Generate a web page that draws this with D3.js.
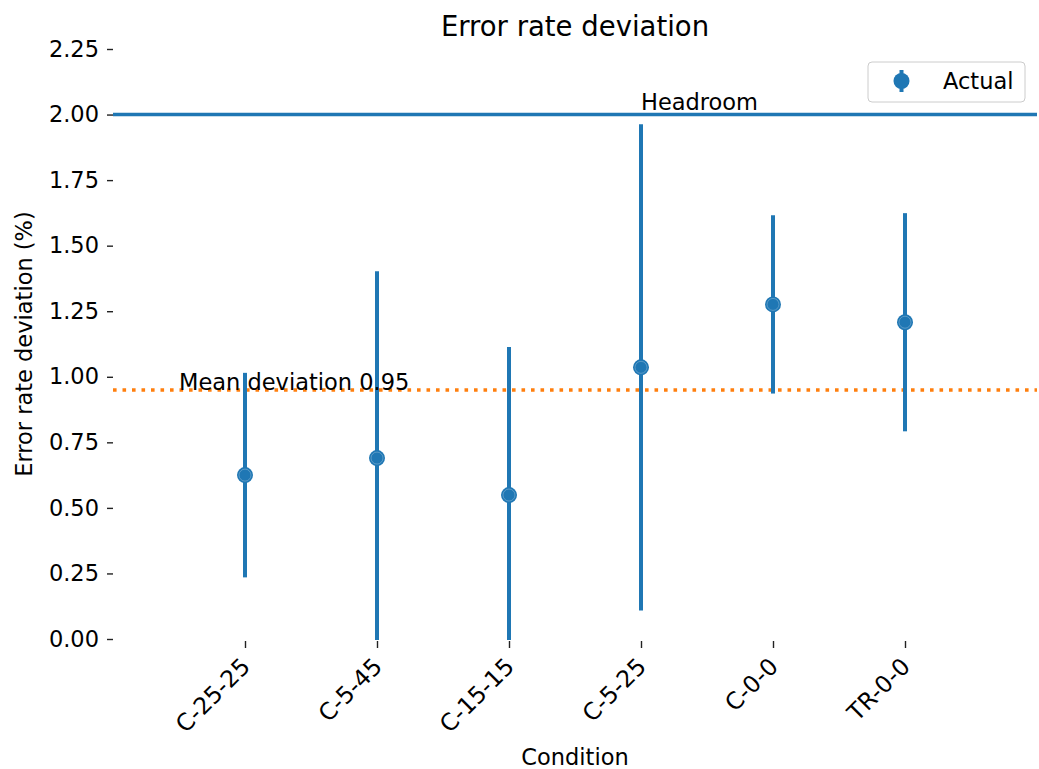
<!DOCTYPE html>
<html>
<head>
<meta charset="utf-8">
<script src="https://cdn.jsdelivr.net/npm/d3@7"></script>
<style>
  html, body { margin: 0; padding: 0; background: #ffffff; }
  svg { display: block; font-family: "DejaVu Sans", sans-serif; }
</style>
</head>
<body>
<svg id="chart" width="1039" height="769"></svg>
<script>
// Conditions on the x axis
const conditions = ["C-25-25", "C-5-45", "C-15-15", "C-5-25", "C-0-0", "TR-0-0"];
// Measured error-rate deviation (%) per condition
const actualValues = [0.625, 0.69, 0.549, 1.036, 1.276, 1.208];
// Symmetric error (± %) per condition
const actualErrors = [0.39, 0.712, 0.565, 0.927, 0.34, 0.416];
// Reference levels
const headroomLevel = 2.0;
const meanDeviation = 0.95;
// Y tick values
const yTicks = [0, 0.25, 0.5, 0.75, 1.0, 1.25, 1.5, 1.75, 2.0, 2.25];

const BLUE = "#1f77b4";
const ORANGE = "#ff7f0e";
const FS = 22.5;

const svg = d3.select("#chart");
const plot = { left: 113, right: 1037, top: 49, bottom: 639 };

const x = d3.scaleLinear().domain([-1, conditions.length]).range([plot.left, plot.right]);
const y = d3.scaleLinear().domain([0, 2.25]).range([plot.bottom, plot.top]);

// clip region = axes area
svg.append("defs").append("clipPath").attr("id", "plotClip")
  .append("rect")
  .attr("x", plot.left).attr("y", plot.top)
  .attr("width", plot.right - plot.left).attr("height", plot.bottom - plot.top + 1);

// Title
svg.append("text")
  .attr("x", (plot.left + plot.right) / 2).attr("y", 36)
  .attr("text-anchor", "middle")
  .attr("font-size", 27.5).attr("fill", "#000")
  .text("Error rate deviation");

// Y axis (spine hidden)
const yAxis = d3.axisLeft(y).tickValues(yTicks).tickFormat(d3.format(".2f")).tickSize(6).tickPadding(8);
const gy = svg.append("g").attr("transform", `translate(${plot.left},0)`).call(yAxis);
gy.select(".domain").remove();
gy.selectAll(".tick line").attr("stroke", "#222").attr("stroke-width", 1.4);
gy.selectAll(".tick text").attr("font-size", FS).attr("fill", "#000")
  .attr("font-family", "DejaVu Sans, sans-serif");

// X axis (spine hidden), rotated labels
const xAxis = d3.axisBottom(x).tickValues(d3.range(conditions.length))
  .tickFormat(i => conditions[i]).tickSize(7).tickPadding(0);
const gx = svg.append("g").attr("transform", `translate(0,${plot.bottom + 2})`).call(xAxis);
gx.select(".domain").remove();
gx.selectAll(".tick line").attr("stroke", "#222").attr("stroke-width", 1.4);
gx.selectAll(".tick text")
  .attr("font-size", 23.5).attr("fill", "#000")
  .attr("font-family", "DejaVu Sans, sans-serif")
  .attr("text-anchor", "end")
  .attr("dy", null).attr("y", null)
  .attr("transform", "translate(6,27) rotate(-45)");

// Axis labels
svg.append("text")
  .attr("x", (plot.left + plot.right) / 2).attr("y", 765)
  .attr("text-anchor", "middle").attr("font-size", FS).attr("fill", "#000")
  .text("Condition");
svg.append("text")
  .attr("transform", `translate(31.5,${(plot.top + plot.bottom) / 2}) rotate(-90)`)
  .attr("text-anchor", "middle").attr("font-size", FS).attr("fill", "#000")
  .text("Error rate deviation (%)");

const layer = svg.append("g").attr("clip-path", "url(#plotClip)");

// Mean deviation (dotted)
layer.append("line")
  .attr("x1", plot.left).attr("x2", plot.right)
  .attr("y1", y(meanDeviation)).attr("y2", y(meanDeviation))
  .attr("stroke", ORANGE).attr("stroke-width", 3.5)
  .attr("stroke-dasharray", "3.6,5.9");

// Headroom line
layer.append("line")
  .attr("x1", plot.left).attr("x2", plot.right)
  .attr("y1", y(headroomLevel)).attr("y2", y(headroomLevel))
  .attr("stroke", BLUE).attr("stroke-width", 3.4);

// Error bars
const data = conditions.map((c, i) => ({ c, i, v: actualValues[i], e: actualErrors[i] }));
layer.selectAll("line.err").data(data).enter().append("line")
  .attr("class", "err")
  .attr("x1", d => x(d.i)).attr("x2", d => x(d.i))
  .attr("y1", d => y(d.v - d.e)).attr("y2", d => y(d.v + d.e))
  .attr("stroke", BLUE).attr("stroke-width", 4);

// Markers
layer.selectAll("circle.pt").data(data).enter().append("circle")
  .attr("class", "pt")
  .attr("cx", d => x(d.i)).attr("cy", d => y(d.v)).attr("r", 8)
  .attr("fill", BLUE);
layer.selectAll("circle.ring").data(data).enter().append("circle")
  .attr("class", "ring")
  .attr("cx", d => x(d.i)).attr("cy", d => y(d.v)).attr("r", 6)
  .attr("fill", "none").attr("stroke", "rgba(255,255,255,0.25)").attr("stroke-width", 1);

// Text annotations
svg.append("text")
  .attr("x", x(3)).attr("y", y(headroomLevel) - 5)
  .attr("font-size", FS).attr("fill", "#000")
  .text("Headroom");
svg.append("text")
  .attr("x", x(-0.5)).attr("y", y(meanDeviation))
  .attr("font-size", FS).attr("fill", "#000")
  .text("Mean deviation " + meanDeviation.toFixed(2));

// Legend
const lg = svg.append("g").attr("transform", "translate(868,62)");
lg.append("rect")
  .attr("width", 157).attr("height", 40).attr("rx", 4)
  .attr("fill", "rgba(255,255,255,0.8)").attr("stroke", "#cccccc").attr("stroke-width", 1);
lg.append("line")
  .attr("x1", 33.5).attr("x2", 33.5).attr("y1", 8).attr("y2", 30)
  .attr("stroke", BLUE).attr("stroke-width", 4);
lg.append("circle").attr("cx", 33.5).attr("cy", 19).attr("r", 8).attr("fill", BLUE);
lg.append("text").attr("x", 75).attr("y", 26.5)
  .attr("font-size", FS).attr("fill", "#000").text("Actual");
</script>
</body>
</html>
